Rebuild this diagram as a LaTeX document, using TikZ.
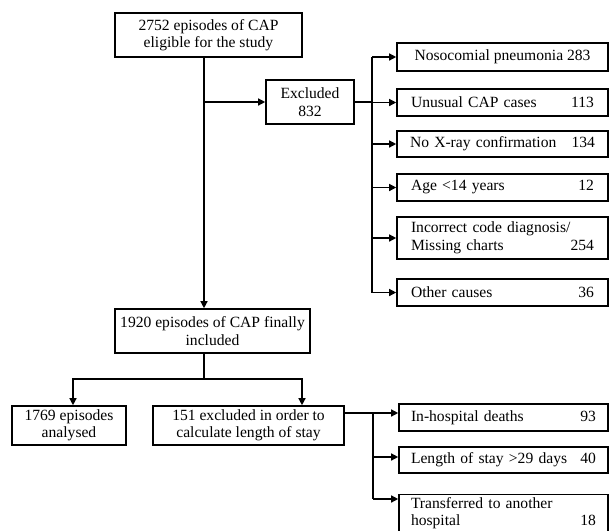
\documentclass[tikz,border=0pt]{standalone}
\usepackage{fontspec}
\setmainfont{Liberation Serif}
\usetikzlibrary{arrows.meta}
\newcommand{\tworow}[2]{\hbox to \linewidth{#1\hfill #2}}
\begin{document}
\begin{tikzpicture}[x=1pt,y=-1pt,
  box/.style={draw,line width=1.6pt,inner sep=0pt,font=\fontsize{15.6}{17.5}\selectfont},
  cbox/.style={box,align=center},
  lbox/.style={box,align=left,text width=#1},
  conn/.style={line width=1.3pt},
  arr/.style={conn,-{Triangle[length=7pt,width=7pt]}}]
\useasboundingbox (0,0) rectangle (609,530);
% top part
\node[cbox,minimum width=187,minimum height=44] (top) at (208.5,35) {2752 episodes of CAP\\eligible for the study};
\node[cbox,minimum width=88,minimum height=44] (excl) at (310,102) {Excluded\\832};
\node[cbox,minimum width=211,minimum height=28] (r1) at (502.5,57) {Nosocomial pneumonia 283};
\node[lbox=183,minimum width=211,minimum height=27] (r2) at (502.5,102.5) {\tworow{Unusual CAP cases}{113}};
\node[lbox=185,minimum width=211,minimum height=26] (r3) at (502.5,144) {\tworow{No X-ray confirmation}{134}};
\node[lbox=183,minimum width=211,minimum height=27] (r4) at (502.5,187.5) {\tworow{Age <14 years}{12}};
\node[lbox=183,minimum width=211,minimum height=42] (r5) at (502.5,238) {Incorrect code diagnosis/\\\tworow{Missing charts}{254}};
\node[lbox=183,minimum width=211,minimum height=27] (r6) at (502.5,292.5) {\tworow{Other causes}{36}};
% middle and bottom
\node[cbox,minimum width=195,minimum height=44] (mid) at (212.5,331) {1920 episodes of CAP finally\\included};
\node[cbox,minimum width=114,minimum height=39] (a) at (69,425.5) {1769 episodes\\analysed};
\node[cbox,minimum width=191,minimum height=39] (b) at (248.5,425.5) {151 excluded in order to\\calculate length of stay};
\node[lbox=185,minimum width=209,minimum height=27] (s1) at (503.5,417.5) {\tworow{In-hospital deaths}{93}};
\node[lbox=185,minimum width=209,minimum height=26] (s2) at (503.5,460) {\tworow{Length of stay >29 days}{40}};
\node[lbox=185,minimum width=209,minimum height=37] (s3) at (503.5,513) {Transferred to another\\\tworow{hospital}{18}};
% spines
\coordinate (sp) at (204,0);
\coordinate (rs) at (372,0);
\coordinate (bs) at (373,0);
\coordinate (j) at (204,379);
% connectors top
\draw[arr] (top.south -| sp) -- (mid.north -| sp);
\draw[arr] (excl.west -| sp) -- (excl.west);
\draw[conn] (excl.east) -- (excl.east -| rs);
\draw[conn] (r1.west -| rs) -- (r6.west -| rs);
\foreach \n in {r1,r2,r3,r4,r5,r6}
  \draw[arr] (\n.west -| rs) -- (\n.west);
% connectors bottom
\draw[conn] (mid.south -| sp) -- (j);
\draw[arr] (j) -| ([xshift=4pt]a.north);
\draw[arr] (j) -| ([xshift=53.5pt]b.north);
\coordinate (bo) at ([yshift=12.5pt]b.east);
\coordinate (t1) at (bs |- bo);
\coordinate (t2) at (373,457);
\coordinate (t3) at (373,499);
\draw[conn] (bo) -- (t1) -- (t3);
\draw[arr] (t1) -- (t1 -| s1.west);
\draw[arr] (t2) -- (t2 -| s2.west);
\draw[arr] (t3) -- (t3 -| s3.west);
\end{tikzpicture}
\end{document}
